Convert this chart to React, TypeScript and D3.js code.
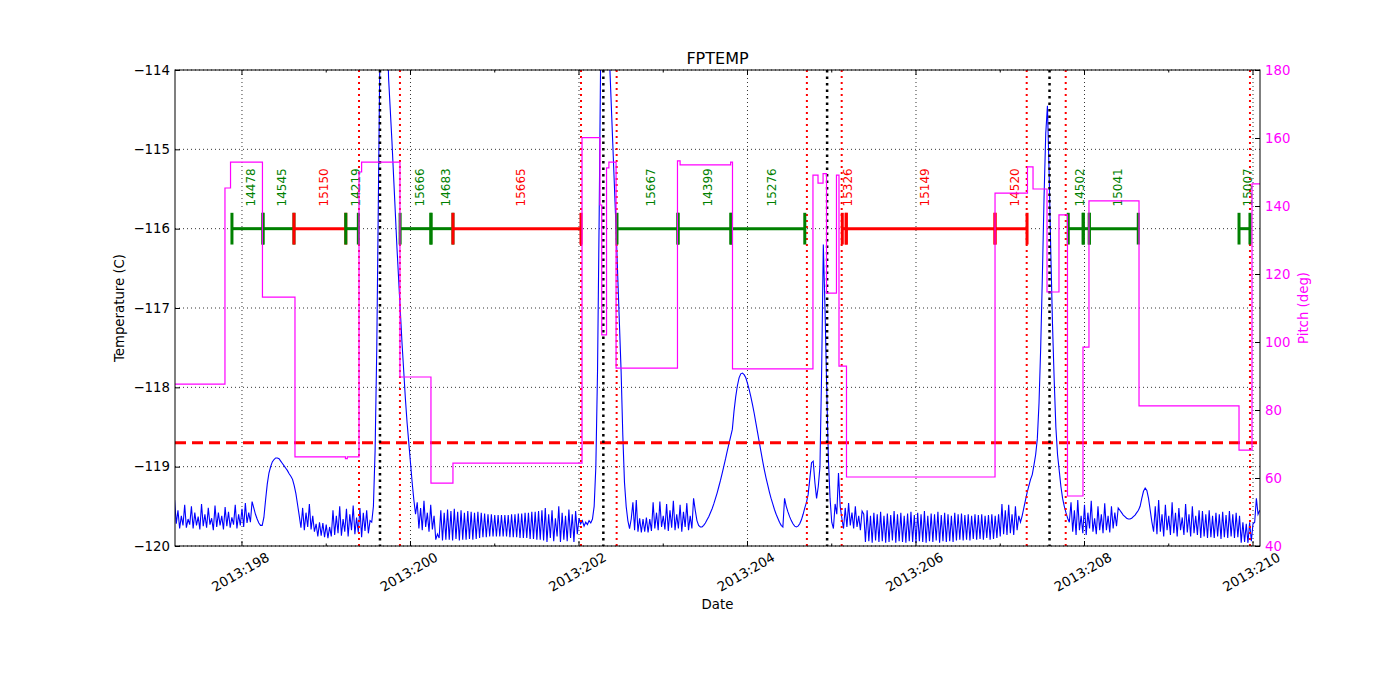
import { useEffect, useRef } from "react"
import * as d3 from "d3"

// FPTEMP telemetry, sampled every SAMPLE_STEP days; each chunk starts at the given day
const SAMPLE_STEP = 0.02

const fpA = [
  -119.42, -119.72, -119.55, -119.78, -119.62, -119.74, -119.48, -119.77, -119.66, -119.73,
  -119.5, -119.78, -119.58, -119.74, -119.63, -119.79, -119.47, -119.75, -119.6, -119.77,
  -119.52, -119.73, -119.65, -119.8, -119.49, -119.76, -119.58, -119.74, -119.62, -119.79,
  -119.51, -119.75, -119.57, -119.77, -119.64, -119.73, -119.48, -119.78, -119.6, -119.74,
  -119.53, -119.76, -119.46, -119.71, -119.58, -119.7,
  -119.44, -119.52, -119.6, -119.66, -119.71, -119.74,
]
const fpC = [
  -119.74, -119.64, -119.42, -119.22, -119.08, -119.0, -118.94, -118.91, -118.89, -118.89,
  -118.9, -118.93, -118.96, -118.99, -119.02, -119.05, -119.09, -119.12, -119.16, -119.24,
  -119.34, -119.48, -119.62, -119.77,
]
const fpD = [
  -119.52, -119.8, -119.58, -119.76, -119.47, -119.79, -119.62, -119.82,
  -119.72, -119.88, -119.7, -119.87, -119.71, -119.89, -119.73, -119.9, -119.76, -119.88,
  -119.55, -119.86, -119.62, -119.84, -119.5, -119.87, -119.66, -119.82, -119.53, -119.88,
  -119.6, -119.8, -119.49, -119.85, -119.64, -119.83, -119.52, -119.89, -119.58, -119.81,
  -119.55, -119.84, -119.68,
]
const fpE = [
  -119.7, -119.5, -118.8, -117.5, -115.5, -113.5, -113.0, -113.0, -113.0, -113.3,
  -114.1, -114.5, -114.9, -115.35, -115.8, -116.25, -116.65, -117.05, -117.45, -117.8,
  -118.15, -118.45, -118.7, -118.95, -119.2, -119.42, -119.6,
]
const fpF = [
  -119.45, -119.78, -119.52, -119.8, -119.43, -119.76, -119.58, -119.82, -119.48, -119.79,
  -119.62, -119.92, -119.85, -119.9, -119.55, -119.93, -119.58, -119.92,
]
const fpG = [
  -119.54, -119.92, -119.56, -119.93, -119.53, -119.91, -119.57, -119.93, -119.55, -119.92,
  -119.58, -119.92, -119.56, -119.91, -119.57, -119.92, -119.58, -119.91, -119.57,
  -119.9, -119.58, -119.89, -119.59, -119.89, -119.6, -119.88, -119.6, -119.88, -119.61,
  -119.88, -119.61, -119.88, -119.61, -119.88, -119.61, -119.88, -119.61, -119.89, -119.6,
  -119.89, -119.6, -119.89, -119.59, -119.9, -119.59, -119.9, -119.58, -119.9, -119.58,
  -119.91, -119.57, -119.91, -119.57, -119.92, -119.56, -119.92, -119.55, -119.93,
]
const fpH = [
  -119.52, -119.95, -119.6, -119.9, -119.55, -119.94, -119.65, -119.88, -119.5, -119.95,
  -119.58, -119.92, -119.62, -119.94, -119.54, -119.9, -119.6, -119.95, -119.56, -119.85,
  -119.65,
]
const fpI = [-119.72, -119.68, -119.75, -119.7, -119.73, -119.68, -119.71, -119.66]
const fpJ = [
  -119.5, -119.0, -117.8, -115.8, -113.5, -113.0, -113.0, -113.0, -113.3, -113.8,
  -114.35, -114.9, -115.45, -116.0, -116.6, -117.2, -117.8, -118.6, -119.2, -119.5,
  -119.68,
]
const fpK = [
  -119.78, -119.66, -119.45, -119.8, -119.42, -119.82, -119.65, -119.83, -119.66, -119.82,
  -119.64, -119.83, -119.66, -119.81,
]
const fpL = [
  -119.45, -119.78, -119.58, -119.8, -119.44, -119.76, -119.62, -119.79, -119.47, -119.81,
  -119.55, -119.77, -119.43, -119.8, -119.6, -119.78, -119.48, -119.82, -119.57, -119.76,
  -119.46, -119.8, -119.62, -119.78,
]
const fpM = [
  -119.4, -119.55, -119.68, -119.74, -119.76, -119.76, -119.74, -119.71, -119.67, -119.63,
  -119.58, -119.53, -119.47, -119.4, -119.33, -119.25, -119.17, -119.08, -118.99, -118.9,
  -118.8, -118.71, -118.62, -118.53, -118.3, -118.12, -117.98, -117.88, -117.83, -117.82,
  -117.84, -117.88, -117.95, -118.03, -118.12, -118.22, -118.33, -118.45, -118.57, -118.69,
  -118.81, -118.93, -119.04, -119.14, -119.23, -119.32, -119.4, -119.47, -119.54, -119.6,
  -119.65, -119.7, -119.74, -119.76,
]
const fpN = [
  -119.4, -119.5, -119.57, -119.63, -119.68, -119.72, -119.75, -119.76, -119.75, -119.72,
  -119.67, -119.6, -119.52, -119.45, -119.35, -119.15, -118.95, -118.93, -119.2, -119.4,
  -119.25, -119.0, -117.8, -116.2, -117.0, -118.0, -118.9, -119.4, -119.7, -119.78,
  -119.47, -119.6, -119.08, -119.5, -119.65,
]
const fpO = [
  -119.78, -119.52, -119.76, -119.46, -119.74, -119.58, -119.78, -119.5, -119.76, -119.62,
  -119.8, -119.56,
]
const fpP = [
  -119.6, -119.95, -119.55, -119.94, -119.62, -119.96, -119.58, -119.93, -119.6, -119.95,
  -119.57, -119.94, -119.62, -119.96, -119.59, -119.95, -119.61, -119.93, -119.56, -119.96,
  -119.6, -119.94, -119.58, -119.95, -119.62, -119.96, -119.59, -119.94, -119.57, -119.95,
  -119.61, -119.96, -119.58, -119.94, -119.6, -119.95, -119.56, -119.96, -119.62, -119.94,
  -119.59, -119.95, -119.6, -119.93, -119.57, -119.96, -119.61, -119.94, -119.58, -119.95,
  -119.6, -119.94, -119.62, -119.95, -119.58, -119.93, -119.6, -119.92, -119.59, -119.93,
  -119.61, -119.92, -119.6, -119.93, -119.62, -119.91, -119.6, -119.92, -119.61, -119.91,
  -119.6, -119.92, -119.62, -119.9, -119.61, -119.92, -119.6, -119.91, -119.62, -119.9,
  -119.6,
]
const fpQ = [
  -119.88, -119.47, -119.85, -119.55, -119.86, -119.48, -119.84, -119.6, -119.86, -119.5,
  -119.8,
]
const fpR = [
  -119.62, -119.7, -119.62, -119.52, -119.42, -119.32, -119.24, -119.16, -119.1, -118.98,
  -118.85, -118.65, -118.2, -117.5, -116.6, -115.6, -114.8, -114.45, -115.3, -116.3,
  -117.2, -117.9, -118.5, -118.85, -119.05, -119.25, -119.4, -119.5, -119.58, -119.65,
  -119.7,
]
const fpS = [
  -119.45, -119.82, -119.55, -119.86, -119.42, -119.8, -119.62, -119.84, -119.48, -119.86,
  -119.58, -119.78, -119.43, -119.82, -119.65, -119.85, -119.5, -119.8, -119.6, -119.84,
  -119.46, -119.8, -119.62, -119.83, -119.5, -119.78, -119.58, -119.75, -119.52,
]
const fpT = [
  -119.55, -119.58, -119.61, -119.63, -119.65, -119.66, -119.66, -119.65, -119.63, -119.61,
  -119.58, -119.55, -119.5, -119.4, -119.31, -119.27, -119.3, -119.4, -119.55, -119.7,
  -119.82,
]
const fpU = [
  -119.5, -119.85, -119.42, -119.82, -119.6, -119.88, -119.48, -119.8, -119.62, -119.86,
  -119.45, -119.84, -119.58, -119.88, -119.52, -119.8, -119.64, -119.86, -119.47, -119.83,
  -119.6, -119.88, -119.5, -119.84, -119.62, -119.86, -119.55,
]
const fpV = [
  -119.9, -119.56, -119.88, -119.6, -119.9, -119.55, -119.89, -119.62, -119.9, -119.58,
  -119.88, -119.6, -119.91, -119.57, -119.89, -119.61, -119.9, -119.56, -119.88, -119.6,
  -119.9, -119.58, -119.89, -119.62,
]
const fpW = [
  -119.96, -119.7, -119.95, -119.72, -119.96, -119.7, -119.94, -119.72, -119.7, -119.4,
  -119.6, -119.55,
]

const fptempChunks: [number, number[]][] = [
  [197.2, fpA], [198.24, fpC], [198.72, fpD], [199.54, fpE], [200.08, fpF], [200.44, fpG],
  [201.6, fpH], [202.02, fpI], [202.18, fpJ], [202.6, fpK], [202.88, fpL], [203.36, fpM],
  [204.44, fpN], [205.14, fpO], [205.38, fpP], [207.0, fpQ], [207.22, fpR], [207.84, fpS],
  [208.42, fpT], [208.84, fpU], [209.38, fpV], [209.86, fpW],
]

// Pitch (deg), step changes: [day, pitch]
const pitchSteps: [number, number][] = [
  [197.2, 87.6], [197.798, 145.3], [197.864, 152.9], [198.243, 113.2], [198.629, 66.2],
  [199.228, 65.7], [199.25, 66.2], [199.389, 150.0], [199.42, 152.9], [199.875, 89.7],
  [200.243, 58.5], [200.504, 64.4], [202.036, 160.1], [202.249, 140.3], [202.27, 102.1],
  [202.327, 151.2], [202.355, 152.9], [202.44, 92.3], [203.169, 153.3], [203.2, 152.1],
  [203.8, 152.9], [203.822, 92.1], [204.777, 149.1], [204.837, 146.7], [204.897, 149.5],
  [204.938, 114.4], [205.056, 149.1], [205.086, 92.9], [205.175, 60.3], [206.938, 143.8],
  [207.323, 151.5], [207.389, 145.0], [207.555, 114.7], [207.697, 137.4], [207.798, 54.7],
  [207.982, 98.5], [208.053, 141.5], [208.647, 81.2], [209.834, 68.2], [209.988, 146.5],
  [210.083, 146.5],
]

// Observations: [start day, stop day, obsid, kind]
const obsids: [number, number, string, string][] = [
  [197.881, 198.249, "14478", "ok"],
  [198.249, 198.617, "14545", "ok"],
  [198.617, 199.232, "15150", "hot"],
  [199.232, 199.381, "14219", "ok"],
  [199.877, 200.243, "15666", "ok"],
  [200.243, 200.504, "14683", "ok"],
  [200.504, 202.024, "15665", "hot"],
  [202.451, 203.175, "15667", "ok"],
  [203.175, 203.804, "14399", "ok"],
  [203.804, 204.68, "15276", "ok"],
  [205.125, 205.172, "15326", "hot"],
  [205.172, 206.938, "15149", "hot"],
  [206.938, 207.318, "14520", "hot"],
  [207.807, 207.985, "14502", "ok"],
  [207.985, 208.057, "", "ok"],
  [208.057, 208.638, "15041", "ok"],
  [209.834, 209.964, "15007", "ok"],
]

const radZoneDays = [199.389, 199.875, 202.024, 202.447, 204.705, 205.118, 207.314, 207.777, 209.964]
const perigeeDays = [199.638, 202.289, 204.945, 207.585]
const planningLimit = -118.7

const xMajorDays = [198, 200, 202, 204, 206, 208, 210]
const xMinorDays = [199, 201, 203, 205, 207, 209]
const tempTicks = [-120, -119, -118, -117, -116, -115, -114]
const pitchTicks = [40, 60, 80, 100, 120, 140, 160, 180]

export default function App() {
  const svgRef = useRef<SVGSVGElement>(null)

  useEffect(() => {
    if (!svgRef.current) return
    const svg = d3.select(svgRef.current)
    svg.selectAll("*").remove()

    const W = 1400
    const H = 700
    const m = { left: 175, right: 1260, top: 70, bottom: 546 }
    const font = "'DejaVu Sans', sans-serif"

    const x = d3.scaleLinear().domain([197.205, 210.083]).range([m.left, m.right])
    const y = d3.scaleLinear().domain([-120, -114]).range([m.bottom, m.top])
    const y2 = d3.scaleLinear().domain([40, 180]).range([m.bottom, m.top])

    svg.append("rect").attr("width", W).attr("height", H).attr("fill", "white")

    svg
      .append("defs")
      .append("clipPath")
      .attr("id", "plotclip")
      .append("rect")
      .attr("x", m.left)
      .attr("y", m.top)
      .attr("width", m.right - m.left)
      .attr("height", m.bottom - m.top)

    // grid
    const grid = svg.append("g").attr("stroke", "#000").attr("stroke-width", 0.8).attr("stroke-dasharray", "1,3")
    grid
      .selectAll(".gx")
      .data(xMajorDays.filter((d) => x(d) < m.right))
      .enter()
      .append("line")
      .attr("x1", (d) => x(d))
      .attr("x2", (d) => x(d))
      .attr("y1", m.top)
      .attr("y2", m.bottom)
    grid
      .selectAll(".gy")
      .data(tempTicks)
      .enter()
      .append("line")
      .attr("x1", m.left)
      .attr("x2", m.right)
      .attr("y1", (d) => y(d))
      .attr("y2", (d) => y(d))

    const plot = svg.append("g").attr("clip-path", "url(#plotclip)")

    // temperature
    const fpPoints: [number, number][] = []
    fptempChunks.forEach(([start, vals]) => {
      vals.forEach((v, i) => fpPoints.push([start + i * SAMPLE_STEP, v]))
    })
    const tempLine = d3
      .line<[number, number]>()
      .x((d) => x(d[0]))
      .y((d) => y(d[1]))
    plot
      .append("path")
      .datum(fpPoints)
      .attr("fill", "none")
      .attr("stroke", "#0000ff")
      .attr("stroke-width", 1.1)
      .attr("d", tempLine)

    // planning limit
    plot
      .append("line")
      .attr("x1", m.left)
      .attr("x2", m.right)
      .attr("y1", y(planningLimit))
      .attr("y2", y(planningLimit))
      .attr("stroke", "#ff0000")
      .attr("stroke-width", 3)
      .attr("stroke-dasharray", "11,6")

    // rad zone / perigee markers
    plot
      .selectAll(".rz")
      .data(radZoneDays)
      .enter()
      .append("line")
      .attr("x1", (d) => x(d))
      .attr("x2", (d) => x(d))
      .attr("y1", m.top)
      .attr("y2", m.bottom)
      .attr("stroke", "#ff0000")
      .attr("stroke-width", 2)
      .attr("stroke-dasharray", "2,4")
    plot
      .selectAll(".pg")
      .data(perigeeDays)
      .enter()
      .append("line")
      .attr("x1", (d) => x(d))
      .attr("x2", (d) => x(d))
      .attr("y1", m.top)
      .attr("y2", m.bottom)
      .attr("stroke", "#000")
      .attr("stroke-width", 2.5)
      .attr("stroke-dasharray", "2.5,4")

    // observations
    const obsColor = (k: string) => (k === "hot" ? "#ff0000" : "#008000")
    const og = plot.append("g")
    obsids.forEach(([start, stop, id, kind]) => {
      const c = obsColor(kind)
      og.append("line")
        .attr("x1", x(start))
        .attr("x2", x(stop))
        .attr("y1", y(-116))
        .attr("y2", y(-116))
        .attr("stroke", c)
        .attr("stroke-width", 3)
      ;[start, stop].forEach((d) => {
        og.append("line")
          .attr("x1", x(d))
          .attr("x2", x(d))
          .attr("y1", y(-115.8))
          .attr("y2", y(-116.2))
          .attr("stroke", c)
          .attr("stroke-width", 3)
      })
      if (id) {
        const cx = x((start + stop) / 2) + 8
        og.append("text")
          .attr("transform", `translate(${cx},${y(-115.72)}) rotate(-90)`)
          .attr("font-family", font)
          .attr("font-size", "12px")
          .attr("fill", c)
          .text(id)
      }
    })

    // pitch
    const pitchLine = d3
      .line<[number, number]>()
      .x((d) => x(d[0]))
      .y((d) => y2(d[1]))
      .curve(d3.curveStepAfter)
    plot
      .append("path")
      .datum(pitchSteps)
      .attr("fill", "none")
      .attr("stroke", "#ff00ff")
      .attr("stroke-width", 1.2)
      .attr("d", pitchLine)

    // frame
    svg
      .append("rect")
      .attr("x", m.left)
      .attr("y", m.top)
      .attr("width", m.right - m.left)
      .attr("height", m.bottom - m.top)
      .attr("fill", "none")
      .attr("stroke", "#000")
      .attr("stroke-width", 1)

    // left axis
    const leftAxis = svg
      .append("g")
      .attr("transform", `translate(${m.left},0)`)
      .call(
        d3
          .axisLeft(y)
          .tickValues(tempTicks)
          .tickSize(-5)
          .tickPadding(5)
          .tickFormat((d) => "\u2212" + Math.abs(d as number)),
      )
    leftAxis.select(".domain").remove()
    leftAxis.selectAll("text").attr("font-family", font).attr("font-size", "13.3px").attr("fill", "#000")

    // right axis
    const rightAxis = svg
      .append("g")
      .attr("transform", `translate(${m.right},0)`)
      .call(d3.axisRight(y2).tickValues(pitchTicks).tickSize(-5).tickPadding(5))
    rightAxis.select(".domain").remove()
    rightAxis.selectAll("text").attr("font-family", font).attr("font-size", "13.3px").attr("fill", "#ff00ff")

    // bottom / top ticks
    const tk = svg.append("g").attr("stroke", "#000").attr("stroke-width", 1)
    xMajorDays
      .filter((d) => x(d) <= m.right)
      .forEach((d) => {
        tk.append("line").attr("x1", x(d)).attr("x2", x(d)).attr("y1", m.bottom).attr("y2", m.bottom - 5)
        tk.append("line").attr("x1", x(d)).attr("x2", x(d)).attr("y1", m.top).attr("y2", m.top + 5)
      })
    xMinorDays.forEach((d) => {
      tk.append("line").attr("x1", x(d)).attr("x2", x(d)).attr("y1", m.bottom).attr("y2", m.bottom - 2.5)
      tk.append("line").attr("x1", x(d)).attr("x2", x(d)).attr("y1", m.top).attr("y2", m.top + 2.5)
    })
    svg
      .append("g")
      .selectAll("text")
      .data(xMajorDays)
      .enter()
      .append("text")
      .attr("transform", (d) => `translate(${x(d) - 1.5},572) rotate(-30)`)
      .attr("text-anchor", "middle")
      .attr("dy", "0.35em")
      .attr("font-family", font)
      .attr("font-size", "13.3px")
      .text((d) => `2013:${d}`)

    // titles
    const cx = (m.left + m.right) / 2
    svg
      .append("text")
      .attr("x", cx)
      .attr("y", 64)
      .attr("text-anchor", "middle")
      .attr("font-family", font)
      .attr("font-size", "16px")
      .text("FPTEMP")
    svg
      .append("text")
      .attr("x", cx)
      .attr("y", 609)
      .attr("text-anchor", "middle")
      .attr("font-family", font)
      .attr("font-size", "13.3px")
      .text("Date")
    svg
      .append("text")
      .attr("transform", `translate(119.5,308) rotate(-90)`)
      .attr("text-anchor", "middle")
      .attr("dy", "0.35em")
      .attr("font-family", font)
      .attr("font-size", "13.3px")
      .text("Temperature (C)")
    svg
      .append("text")
      .attr("transform", `translate(1303.5,308) rotate(-90)`)
      .attr("text-anchor", "middle")
      .attr("dy", "0.35em")
      .attr("font-family", font)
      .attr("font-size", "13.3px")
      .attr("fill", "#ff00ff")
      .text("Pitch (deg)")
  }, [])

  return (
    <div style={{ position: "absolute", left: 0, top: 0 }}>
      <svg ref={svgRef} width={1400} height={700} />
    </div>
  )
}
